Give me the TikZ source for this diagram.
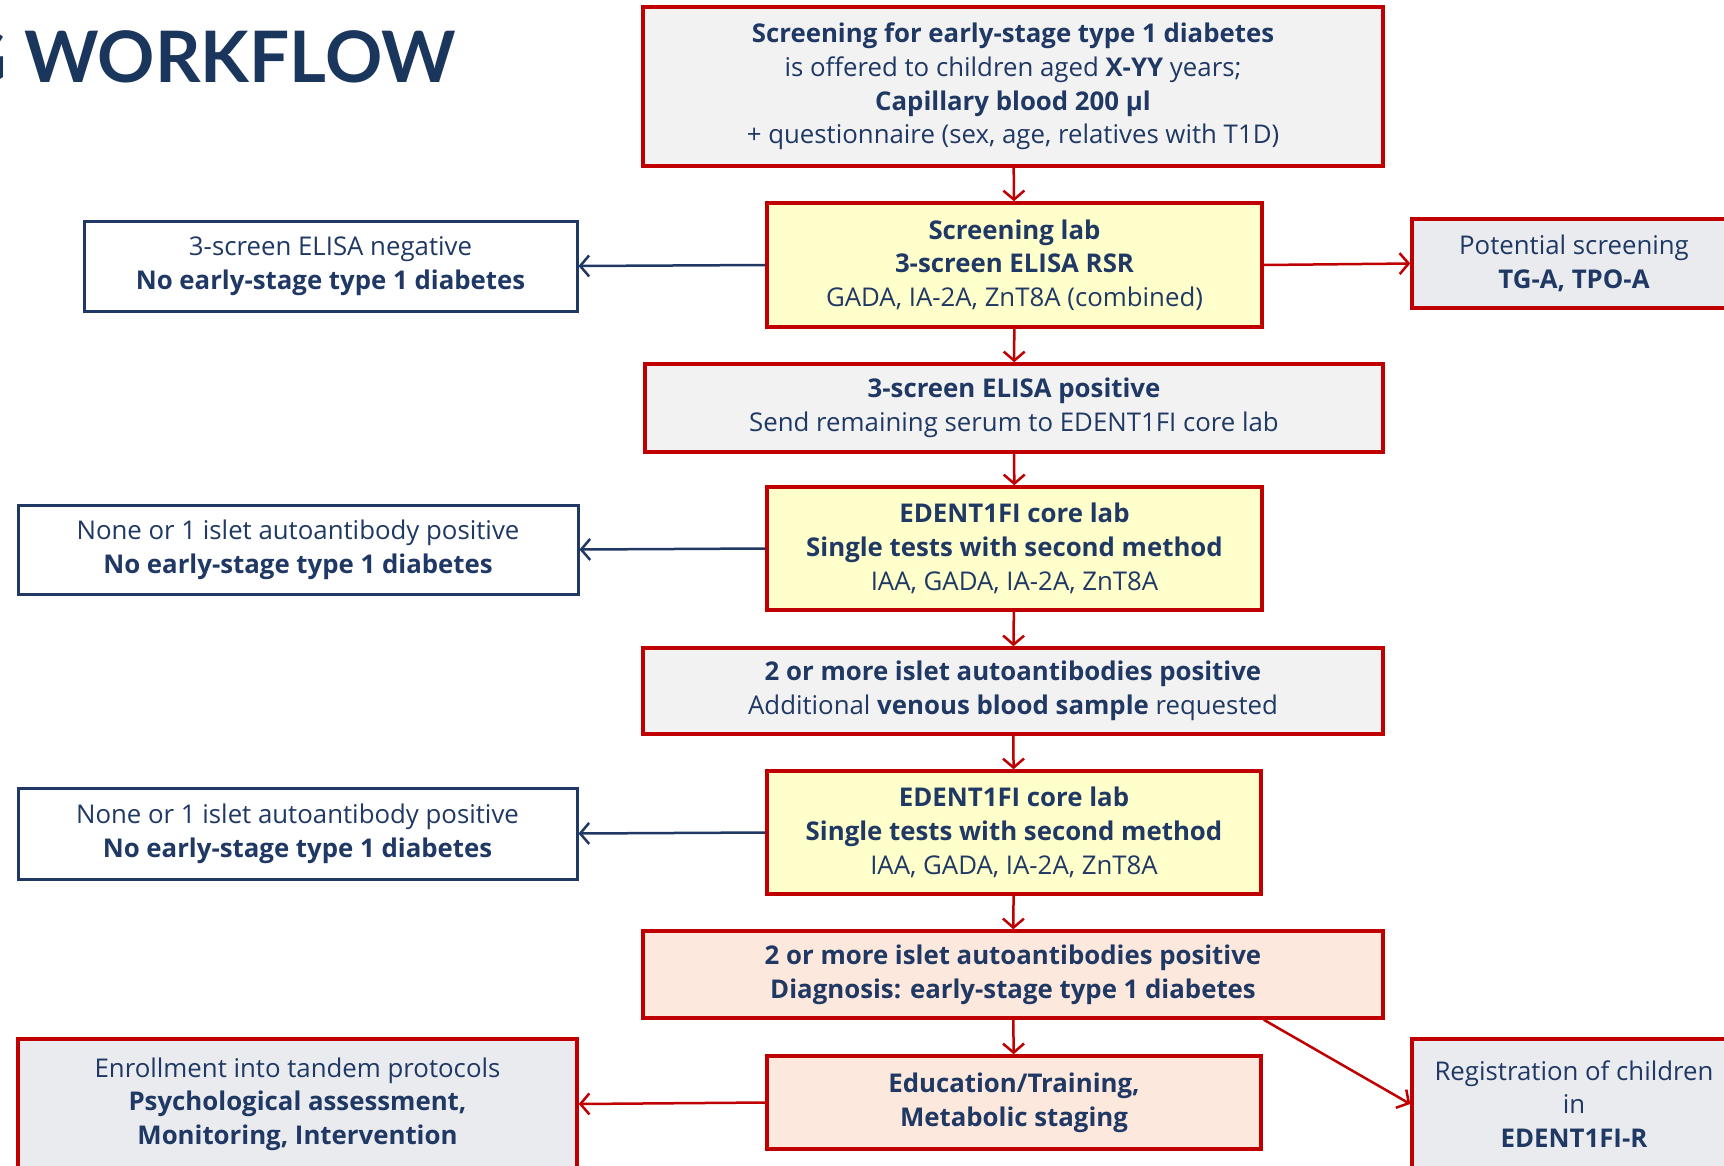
\documentclass[tikz,border=0pt]{standalone}
\usepackage{fontspec}
\setmainfont{Open Sans}
\newfontfamily\wftitlefont{Lato}
\usetikzlibrary{arrows.meta}
\definecolor{edred}{HTML}{C00000}
\definecolor{ednavy}{HTML}{1F3864}
\definecolor{edtitle}{HTML}{1B365D}
\definecolor{edgray}{HTML}{F2F2F2}
\definecolor{edblue}{HTML}{E9EBEE}
\definecolor{edyellow}{HTML}{FFFFCC}
\definecolor{edpeach}{HTML}{FCE8DC}
\newcommand{\wfboxfont}{\fontsize{25.8}{33.7}\selectfont}

\begin{document}
\begin{tikzpicture}[x=1pt,y=-1pt,
    box/.style={draw=edred,line width=3.5pt,align=center,text=ednavy,font=\wfboxfont,inner sep=0pt},
    graybox/.style={box,fill=edgray},
    bluebox/.style={box,fill=edblue},
    labbox/.style={box,fill=edyellow},
    diagbox/.style={box,fill=edpeach},
    nobox/.style={box,draw=ednavy,line width=3pt,fill=white},
    flow/.style={edred,line width=2.5pt,-{Straight Barb[length=9pt,width=21pt]}},
    noflow/.style={flow,ednavy}]
  \useasboundingbox (0,0) rectangle (1724,1165);
  % title, cut off at the left edge
  \node[anchor=east,text=edtitle,font=\wftitlefont\fontsize{71}{76}\selectfont\bfseries,inner sep=0pt] (title) at (456,57) {G WORKFLOW};
  % main column
  \node[graybox,minimum width=740,minimum height=159] (offer) at (1013,86.5)
    {\textbf{Screening for early-stage type 1 diabetes}\\ is offered to children aged \textbf{X-YY} years;\\ \textbf{Capillary blood 200 µl}\\ + questionnaire (sex, age, relatives with T1D)};
  \node[labbox,minimum width=495,minimum height=124] (lab) at (1014.5,265)
    {\textbf{Screening lab}\\ \textbf{3-screen ELISA RSR}\\ GADA, IA-2A, ZnT8A (combined)};
  \node[graybox,minimum width=738,minimum height=88] (elisapos) at (1014,408)
    {\textbf{3-screen ELISA positive}\\ Send remaining serum to EDENT1FI core lab};
  \node[labbox,minimum width=495,minimum height=123] (core) at (1014.5,548.5)
    {\textbf{EDENT1FI core lab}\\ \textbf{Single tests with second method}\\ IAA, GADA, IA-2A, ZnT8A};
  \node[graybox,minimum width=740,minimum height=86] (multi) at (1013,691)
    {\textbf{2 or more islet autoantibodies positive}\\ Additional \textbf{venous blood sample} requested};
  \node[labbox,minimum width=494,minimum height=123] (coretwo) at (1014,832.5)
    {\textbf{EDENT1FI core lab}\\ \textbf{Single tests with second method}\\ IAA, GADA, IA-2A, ZnT8A};
  \node[diagbox,minimum width=740,minimum height=87] (diag) at (1013,974.5)
    {\textbf{2 or more islet autoantibodies positive}\\ \textbf{Diagnosis: early-stage type 1 diabetes}};
  \node[diagbox,minimum width=494,minimum height=93] (edu) at (1014,1102.5)
    {\textbf{Education/Training,}\\ \textbf{Metabolic staging}};
  % side boxes
  \node[nobox,minimum width=493,minimum height=90] (neg) at (330.5,266)
    {3-screen ELISA negative\\ \textbf{No early-stage type 1 diabetes}};
  \node[bluebox,minimum width=324,minimum height=89] (thyroid) at (1574,263.5)
    {Potential screening\\ \textbf{TG-A, TPO-A}};
  \node[nobox,minimum width=560,minimum height=89] (single) at (298,549.5)
    {None or 1 islet autoantibody positive\\ \textbf{No early-stage type 1 diabetes}};
  \node[nobox,minimum width=559,minimum height=91] (singletwo) at (297.5,833.5)
    {None or 1 islet autoantibody positive\\ \textbf{No early-stage type 1 diabetes}};
  \node[bluebox,minimum width=559,minimum height=130] (tandem) at (297.5,1104)
    {Enrollment into tandem protocols\\ \textbf{Psychological assessment,}\\ \textbf{Monitoring, Intervention}};
  \node[bluebox,minimum width=324,minimum height=130] (registry) at (1574,1104)
    {Registration of children\\ in\\ \textbf{EDENT1FI-R}};
  % connectors
  \draw[flow] (offer) -- (lab);
  \draw[flow] (lab) -- (elisapos);
  \draw[flow] (elisapos) -- (core);
  \draw[flow] (core) -- (multi);
  \draw[flow] (multi) -- (coretwo);
  \draw[flow] (coretwo) -- (diag);
  \draw[flow] (diag) -- (edu);
  \draw[noflow] (lab.west) -- (neg.east);
  \draw[flow] (lab.east) -- (thyroid.west);
  \draw[noflow] (core.west) -- (single.east);
  \draw[noflow] (coretwo.west) -- (singletwo.east);
  \draw[flow] (edu.west) -- (tandem.east);
  \draw[flow] ([xshift=-121pt]diag.south east) -- (registry.west);
\end{tikzpicture}
\end{document}
